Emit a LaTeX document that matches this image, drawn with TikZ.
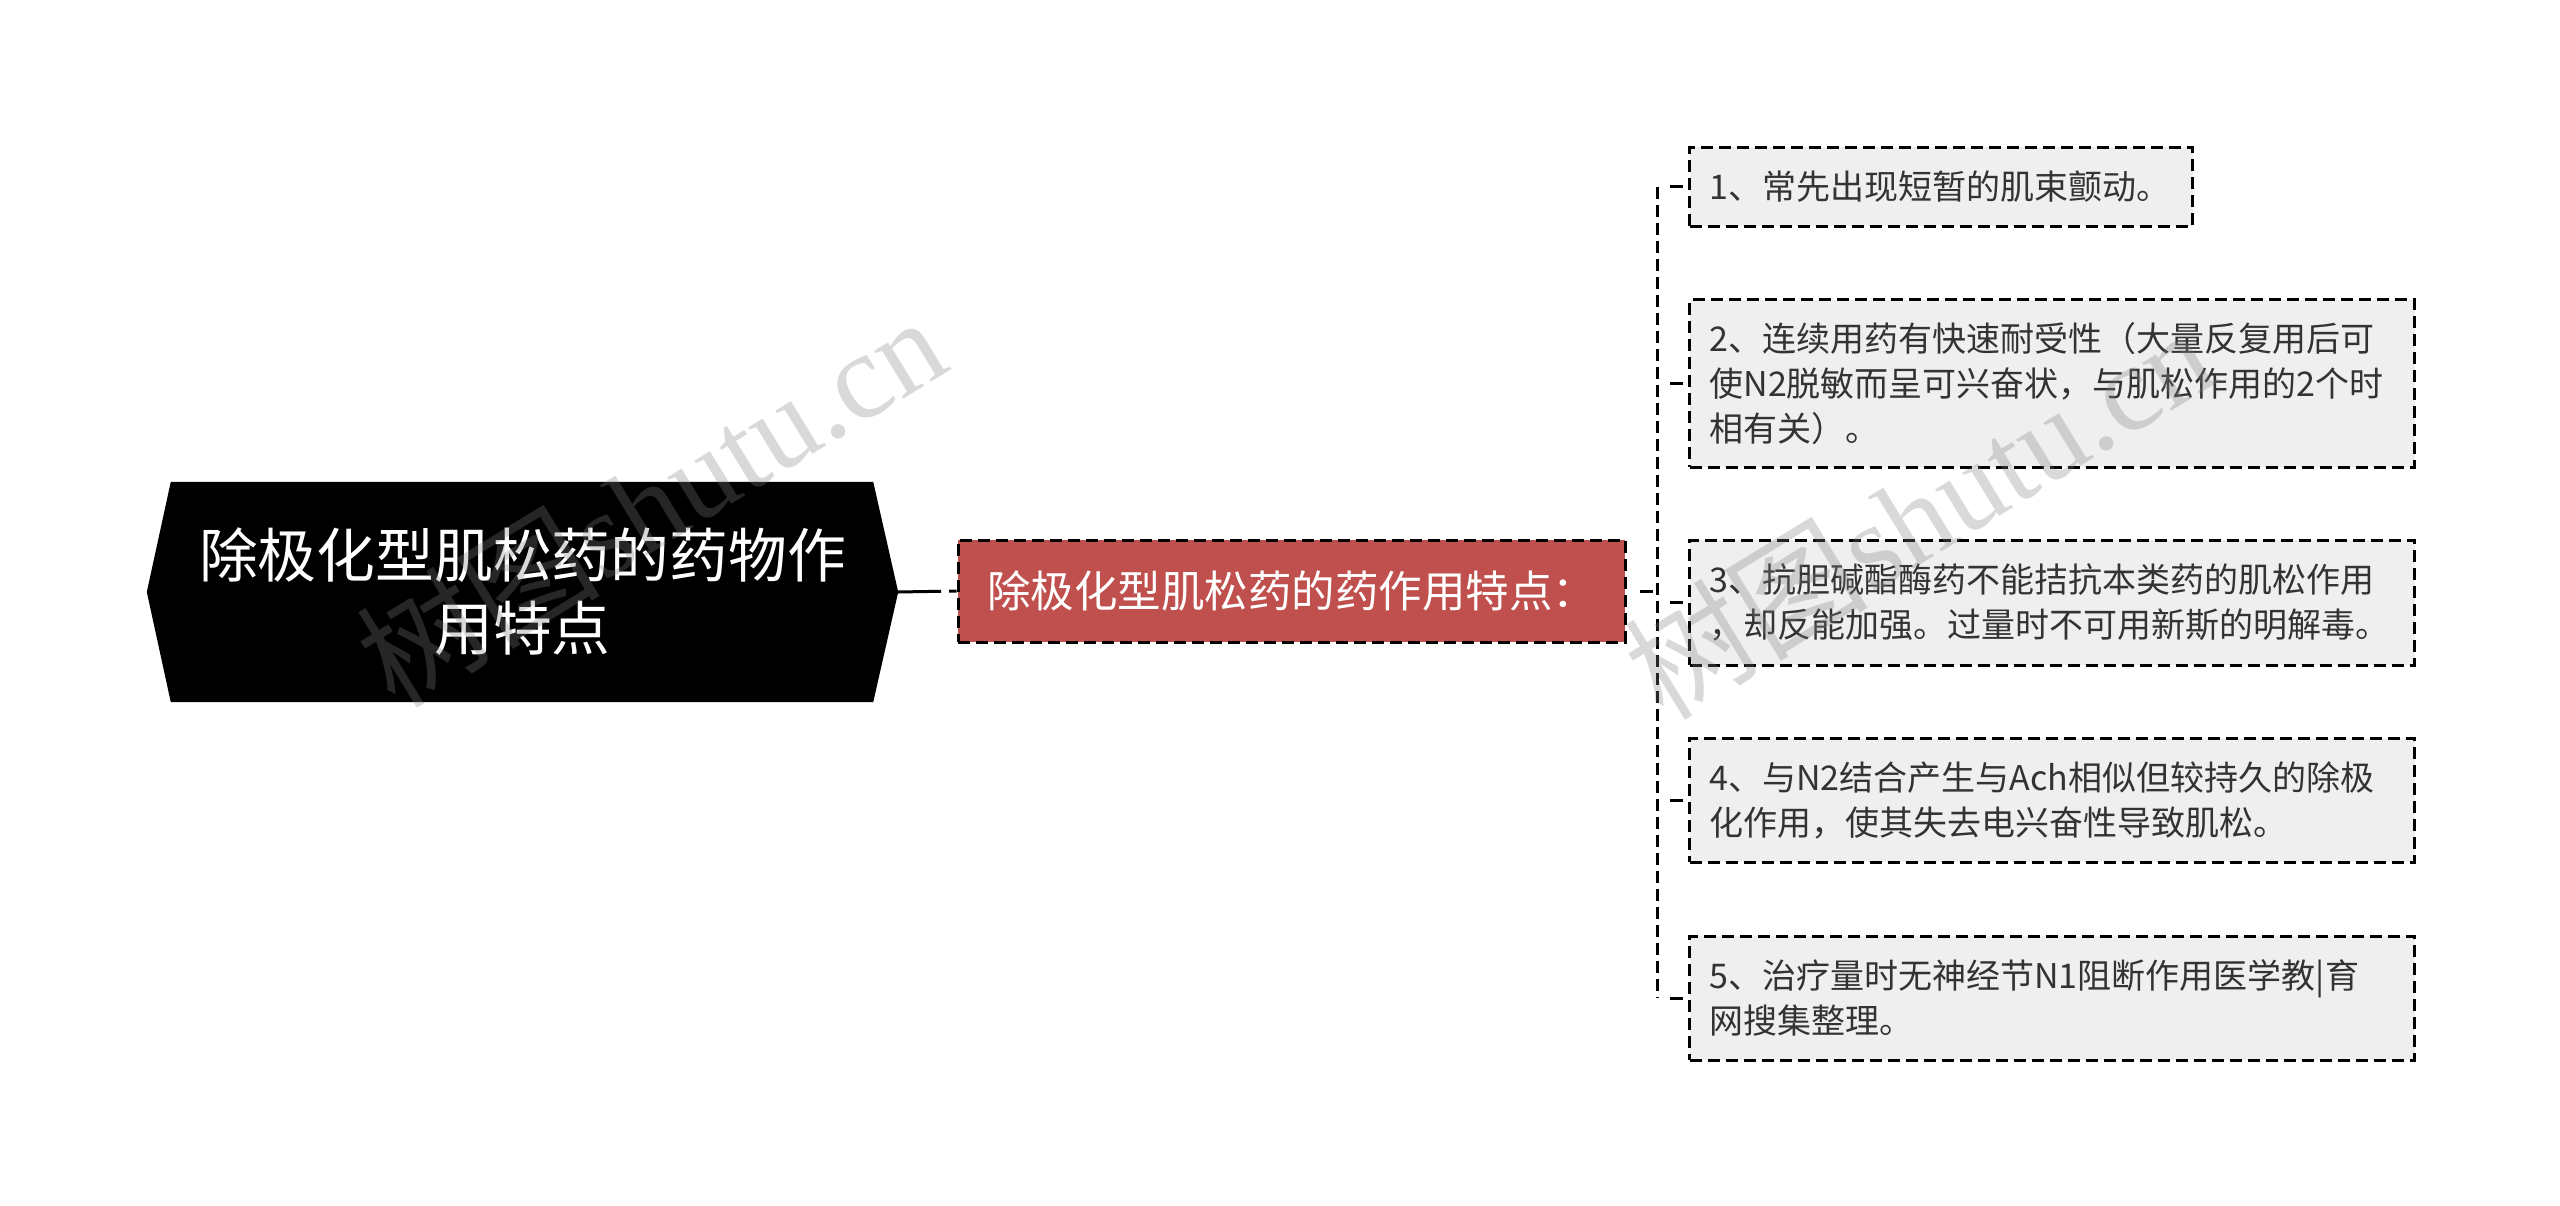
\documentclass[tikz,border=0pt]{standalone}
\usepackage{fontspec}
\setmainfont{Noto Sans CJK SC}
\newfontfamily\wmserif{Liberation Serif}
\definecolor{midred}{RGB}{192,80,77}
\definecolor{leafgray}{RGB}{239,239,239}
\definecolor{txtgray}{RGB}{51,51,51}
\definecolor{wmgray}{RGB}{128,128,128}
\pgfdeclarelayer{background}
\pgfsetlayers{background,main}
\tikzset{
  rootnode/.style={minimum width=751pt, minimum height=220pt, inner sep=0pt,
    text=white, align=center, font=\fontsize{58.8}{73}\selectfont},
  midnode/.style={fill=midred, draw=black, line width=3pt, dash pattern=on 12pt off 6pt,
    minimum width=667pt, minimum height=102pt, inner sep=0pt, text=white,
    font=\fontsize{43.5}{52}\selectfont},
  leaf/.style={anchor=west, fill=leafgray, draw=black, line width=3pt,
    dash pattern=on 12pt off 6pt, text=txtgray, align=left, inner xsep=20pt,
    inner ysep=0pt, font=\fontsize{34}{45}\selectfont},
  rootlink/.style={draw=black, line width=3pt, dash pattern=on 43pt off 8pt on 20pt off 6pt},
  branch/.style={draw=black, line width=3pt, dash pattern=on 13pt off 18pt, dash phase=18pt},
  trunk/.style={draw=black, line width=3pt, dash pattern=on 12pt off 6pt},
  wm/.style={text=wmgray, text opacity=0.3, inner sep=0pt,
    font=\fontsize{122}{122}\selectfont}
}
\begin{document}
\begin{tikzpicture}[x=1pt,y=-1pt]
\useasboundingbox (0,0) rectangle (2560,1206);

\node[rootnode] (root) at (522.5,592) {除极化型肌松药的药物作\\用特点};
\node[midnode] (mid) at (1291.5,591) {除极化型肌松药的药作用特点：};

\node[leaf, text width=463pt, minimum height=79pt] (n1) at (1688,187) {1、常先出现短暂的肌束颤动。};
\node[leaf, text width=685pt, minimum height=167pt] (n2) at (1688,383.5) {2、连续用药有快速耐受性（大量反复用后可\\使N2脱敏而呈可兴奋状，与肌松作用的2个时\\相有关）。};
\node[leaf, text width=685pt, minimum height=125pt] (n3) at (1688,602.5) {3、抗胆碱酯酶药不能拮抗本类药的肌松作用\\，却反能加强。过量时不可用新斯的明解毒。};
\node[leaf, text width=685pt, minimum height=124pt] (n4) at (1688,800) {4、与N2结合产生与Ach相似但较持久的除极\\化作用，使其失去电兴奋性导致肌松。};
\node[leaf, text width=685pt, minimum height=124pt] (n5) at (1688,998) {5、治疗量时无神经节N1阻断作用医学教|育\\网搜集整理。};

\coordinate (j) at (1657,591);

\begin{pgfonlayer}{background}
  \fill[black] (root.west) -- ([xshift=24pt]root.north west) -- ([xshift=-25pt]root.north east)
    -- (root.east) -- ([xshift=-25pt]root.south east) -- ([xshift=24pt]root.south west) -- cycle;
  \draw[rootlink] (root.east) -- (mid.west);
  \draw[branch] (mid.east) -- (j);
  \draw[trunk] (j |- n1.west) -- (j |- n5.west);
  \foreach \n in {n1,n2,n3,n4,n5} \draw[branch] (j |- \n.west) -- (\n.west);
\end{pgfonlayer}

\node[wm, rotate=31.5] (wm1) at (650,500) {树图{\wmserif shutu.cn}};
\node[wm, rotate=31.5] (wm2) at (1918,512) {树图{\wmserif shutu.cn}};
\end{tikzpicture}
\end{document}
